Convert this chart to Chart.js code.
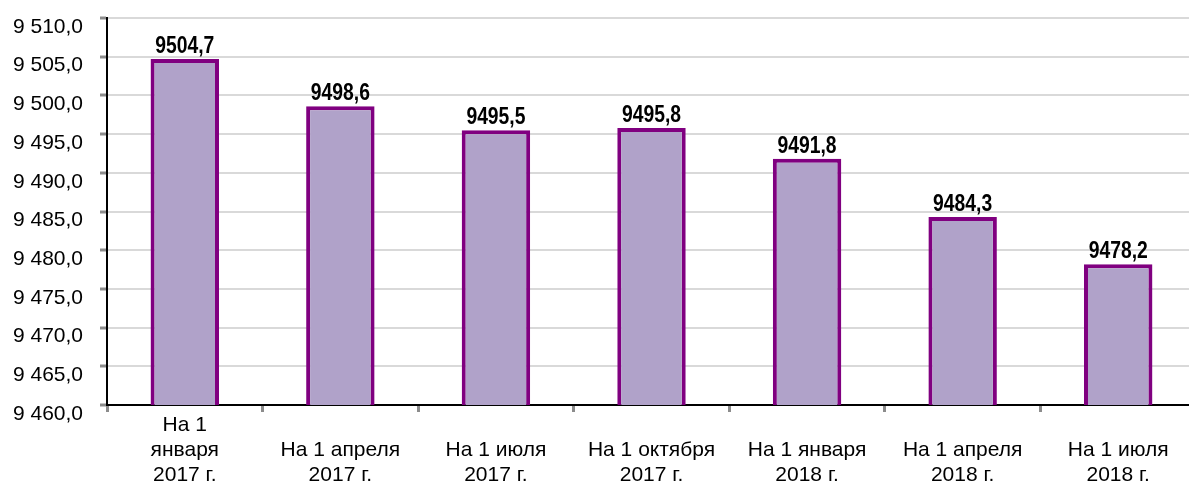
<!DOCTYPE html>
<html lang="ru">
<head>
<meta charset="utf-8">
<script src="https://cdn.jsdelivr.net/npm/chart.js@4.4.1/dist/chart.umd.min.js"></script>
<style>
  html, body { margin: 0; padding: 0; background: #fff; overflow: hidden; }
  #wrap { width: 1196px; height: 482px; position: relative; }
</style>
</head>
<body>
<div id="wrap"><canvas id="chart"></canvas></div>
<script>
// data
const categories = [
  ['На 1', 'января', '2017 г.'],
  ['', 'На 1 апреля', '2017 г.'],
  ['', 'На 1 июля', '2017 г.'],
  ['', 'На 1 октября', '2017 г.'],
  ['', 'На 1 января', '2018 г.'],
  ['', 'На 1 апреля', '2018 г.'],
  ['', 'На 1 июля', '2018 г.']
];
const values = [9504.7, 9498.6, 9495.5, 9495.8, 9491.8, 9484.3, 9478.2];
const yMin = 9460;
const yMax = 9510;
const yStep = 5;

function formatTick(v) {
  const parts = v.toFixed(1).split('.');
  const intPart = parts[0].replace(/\B(?=(\d{3})+(?!\d))/g, ' ');
  return intPart + ',' + parts[1];
}

// value labels above the bars (condensed bold look)
const barLabels = {
  id: 'barLabels',
  afterDatasetsDraw(chart) {
    const ctx = chart.ctx;
    const meta = chart.getDatasetMeta(0);
    const sx = 0.84;
    meta.data.forEach((bar, i) => {
      const txt = values[i].toFixed(1).replace('.', ',');
      ctx.save();
      ctx.font = "bold 23px 'Liberation Sans', Arial, sans-serif";
      ctx.fillStyle = '#000';
      ctx.textAlign = 'center';
      ctx.textBaseline = 'alphabetic';
      ctx.translate(bar.x, bar.y - 6);
      ctx.scale(sx, 1);
      ctx.fillText(txt, 0, 0);
      ctx.restore();
    });
  }
};

const ctx = document.getElementById('chart').getContext('2d');
new Chart(ctx, {
  type: 'bar',
  data: {
    labels: categories,
    datasets: [{
      data: values,
      backgroundColor: '#b0a2c9',
      borderColor: '#800080',
      borderWidth: 4,
      borderSkipped: false,
      barPercentage: 0.44,
      categoryPercentage: 1
    }]
  },
  options: {
    responsive: true,
    maintainAspectRatio: false,
    animation: false,
    layout: { padding: { top: 18, right: 0, left: 0, bottom: 0 } },
    plugins: {
      legend: { display: false },
      tooltip: { enabled: false }
    },
    scales: {
      x: {
        grid: {
          offset: true,
          drawOnChartArea: false,
          drawTicks: true,
          tickLength: 7,
          tickColor: '#8c8c8c',
          tickWidth: 3
        },
        border: { color: '#000', width: 2 },
        ticks: {
          color: '#000',
          font: { family: "'Liberation Sans', Arial, sans-serif", size: 21, lineHeight: 1.19 },
          padding: 1,
          maxRotation: 0,
          autoSkip: false
        },
        afterFit(scale) { scale.height = 77; }
      },
      y: {
        min: yMin,
        max: yMax,
        grid: {
          color: '#d9d9d9',
          lineWidth: 2,
          tickLength: 7,
          tickColor: '#8c8c8c',
          tickWidth: 3
        },
        border: { color: '#000', width: 2 },
        ticks: {
          stepSize: yStep,
          color: '#000',
          font: { family: "'Liberation Sans', Arial, sans-serif", size: 21 },
          padding: 17,
          labelOffset: 9,
          callback: (v) => formatTick(v)
        },
        afterFit(scale) {
          scale.width = 107;
          scale.paddingTop = 0;
          scale.paddingBottom = 0;
        }
      }
    }
  },
  plugins: [barLabels]
});
</script>
</body>
</html>
